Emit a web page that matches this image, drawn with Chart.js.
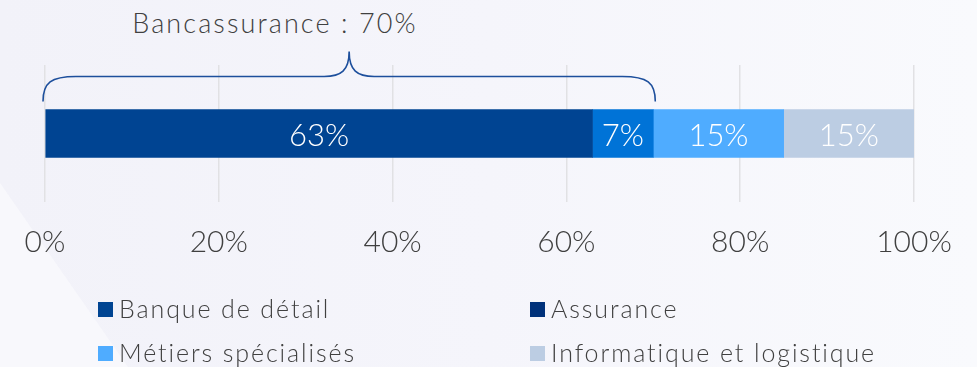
<!DOCTYPE html>
<html lang="fr">
<head>
<meta charset="utf-8">
<title>Répartition des effectifs</title>
<script src="https://cdn.jsdelivr.net/npm/chart.js@4.4.1/dist/chart.umd.min.js"></script>
<style>
    html, body {
        margin: 0;
        padding: 0;
    }
    body {
        width: 977px;
        height: 367px;
        overflow: hidden;
        position: relative;
        font-family: 'Lato', sans-serif;
        color: #404040;
        background: linear-gradient(to right, #f2f2f9 0%, #f5f5fb 50%, #f9fafd 100%);
    }
    #wedge {
        position: absolute;
        left: 0;
        top: 0;
        width: 977px;
        height: 367px;
        background: #f8f8fc;
        clip-path: polygon(0 183px, 0 367px, 128px 367px);
    }
    #title {
        position: absolute;
        top: 6px;
        left: 0;
        width: 550px;
        text-align: center;
        font-size: 27px;
        font-weight: 300;
        letter-spacing: 2.1px;
        line-height: 34px;
    }
    #chartBox {
        position: absolute;
        left: 0;
        top: 0;
        width: 977px;
        height: 294px;
    }
    #legend {
        position: absolute;
        left: 98px;
        top: 290px;
        width: 850px;
        display: grid;
        grid-template-columns: 432px 400px;
        row-gap: 7px;
    }
    .legend-item {
        display: flex;
        align-items: center;
        font-size: 25px;
        font-weight: 300;
        letter-spacing: 1.9px;
        line-height: 37px;
        white-space: nowrap;
    }
    .legend-item span.box {
        display: inline-block;
        width: 15px;
        height: 15px;
        margin-right: 6px;
        margin-top: 2px;
    }
</style>
</head>
<body>
<div id="wedge"></div>
<div id="title"></div>
<div id="chartBox"><canvas id="splitChart"></canvas></div>
<div id="legend"></div>

<script>
// activity split, in percent
const segments = ['Banque de détail', 'Assurance', 'Métiers spécialisés', 'Informatique et logistique'];
const shares = [63, 7, 15, 15];
const barColors = ['#004492', '#0073d7', '#4facff', '#bccde3'];
const legendColors = ['#004492', '#00317a', '#4facff', '#bccde3'];
const xTicks = [0, 20, 40, 60, 80, 100];

// the bracket groups banking + insurance
const groupName = 'Bancassurance';
const groupShare = shares[0] + shares[1];

document.getElementById('title').textContent = groupName + ' : ' + groupShare + '%';

const legendBox = document.getElementById('legend');
segments.forEach(function (name, i) {
    const item = document.createElement('div');
    item.className = 'legend-item';
    item.innerHTML = '<span class="box" style="background:' + legendColors[i] + '"></span>' + name;
    legendBox.appendChild(item);
});

// white percentage labels centred in each segment
const barLabels = {
    id: 'barLabels',
    afterDatasetsDraw: function (chart) {
        const ctx = chart.ctx;
        ctx.save();
        ctx.fillStyle = '#ffffff';
        ctx.font = '300 31px Lato';
        ctx.textAlign = 'center';
        ctx.textBaseline = 'middle';
        chart.data.datasets.forEach(function (ds, i) {
            const el = chart.getDatasetMeta(i).data[0];
            ctx.fillText(ds.data[0] + '%', (el.x + el.base) / 2, el.y + 2);
        });
        ctx.restore();
    }
};

// curly brace above the bar from 0 to groupShare
const brace = {
    id: 'brace',
    afterDatasetsDraw: function (chart) {
        const ctx = chart.ctx;
        const xs = chart.scales.x;
        const el = chart.getDatasetMeta(0).data[0];
        const left = xs.getPixelForValue(0) - 2;
        const right = xs.getPixelForValue(groupShare) + 2;
        const mid = (left + right) / 2;
        const bottom = el.y - el.height / 2 - 8;
        const line = bottom - 25;
        const peak = line - 25;
        const r = 25;

        ctx.save();
        ctx.strokeStyle = '#1d4f9c';
        ctx.lineWidth = 1.6;
        ctx.beginPath();
        ctx.moveTo(left, bottom);
        ctx.bezierCurveTo(left, line + 6, left + 8, line, left + r + 8, line);
        ctx.lineTo(mid - r, line);
        ctx.bezierCurveTo(mid - 8, line, mid, line - 6, mid, peak);
        ctx.bezierCurveTo(mid, line - 6, mid + 8, line, mid + r, line);
        ctx.lineTo(right - r - 8, line);
        ctx.bezierCurveTo(right - 8, line, right, line + 6, right, bottom);
        ctx.stroke();
        ctx.restore();
    }
};

const datasets = segments.map(function (name, i) {
    return {
        label: name,
        data: [shares[i]],
        backgroundColor: barColors[i],
        borderWidth: 0,
        barThickness: 48
    };
});

new Chart(document.getElementById('splitChart'), {
    type: 'bar',
    data: {
        labels: [''],
        datasets: datasets
    },
    options: {
        indexAxis: 'y',
        responsive: true,
        maintainAspectRatio: false,
        animation: false,
        layout: {
            padding: { top: 65, left: 45, right: 63, bottom: 12 }
        },
        plugins: {
            legend: { display: false },
            tooltip: { enabled: false }
        },
        scales: {
            x: {
                stacked: true,
                min: 0,
                max: 100,
                afterBuildTicks: function (axis) {
                    axis.ticks = xTicks.map(function (v) { return { value: v }; });
                },
                ticks: {
                    padding: 22,
                    color: '#404040',
                    font: { family: 'Lato', size: 30, weight: '300' },
                    callback: function (v) { return v + '%'; }
                },
                grid: {
                    color: '#e1e1e4',
                    lineWidth: 1.5,
                    drawTicks: false
                },
                border: { display: false }
            },
            y: {
                stacked: true,
                display: false
            }
        }
    },
    plugins: [barLabels, brace]
});
</script>
</body>
</html>
